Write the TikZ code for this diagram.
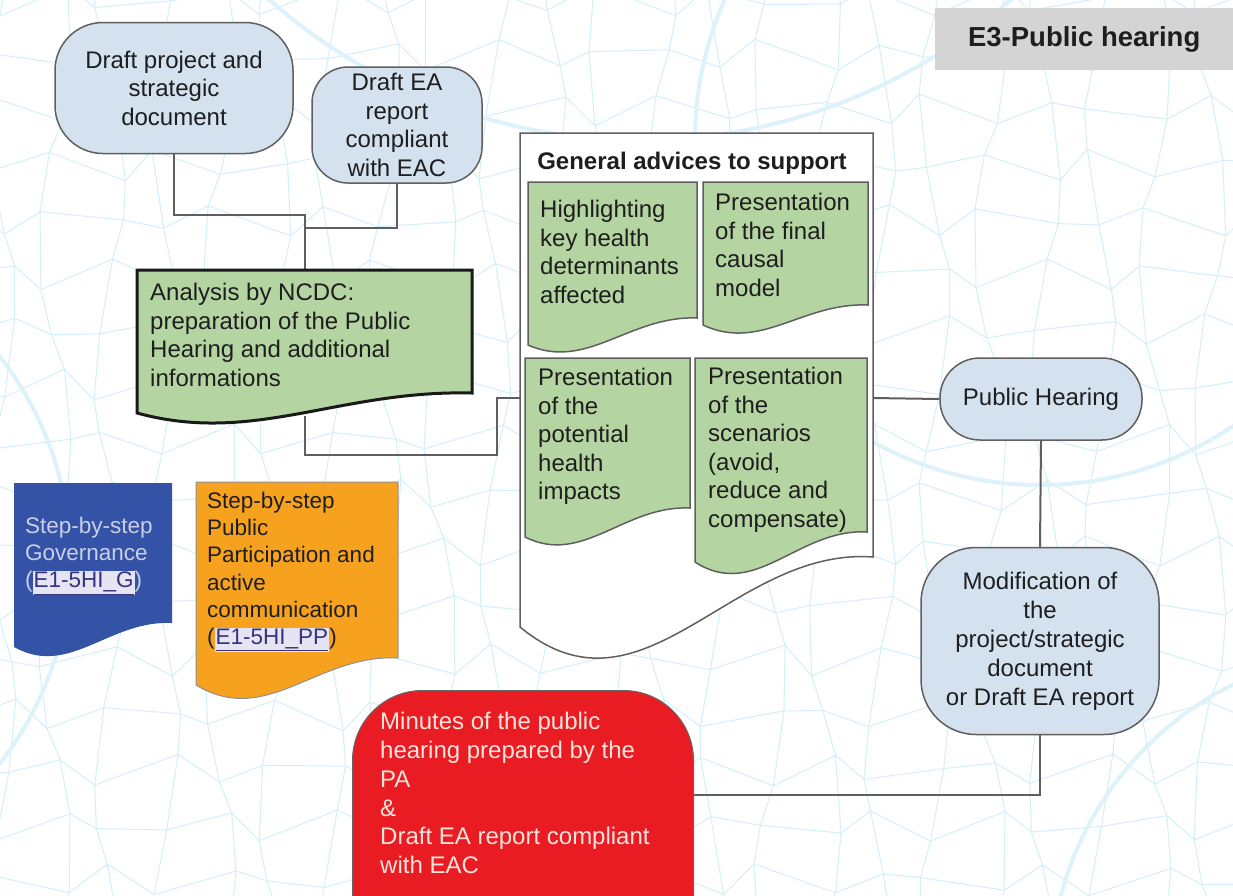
\documentclass[tikz,border=0pt]{standalone}
\usepackage{fontspec}
\setmainfont{Liberation Sans}
\usetikzlibrary{calc}

\definecolor{nodeblue}{HTML}{D4E2F0}
\definecolor{linegray}{HTML}{5F5F5F}
\definecolor{leafgreen}{HTML}{B4D5A2}
\definecolor{govblue}{HTML}{3553A6}
\definecolor{govtext}{HTML}{C9CFE8}
\definecolor{ppOrange}{HTML}{F7A21F}
\definecolor{minRed}{HTML}{E91C23}
\definecolor{minText}{HTML}{FCE3DC}
\definecolor{titlegray}{HTML}{D4D4D4}
\definecolor{veins}{HTML}{D4EFFA}
\definecolor{veinsarc}{HTML}{DDF2FB}
\definecolor{textdark}{HTML}{1E1E1E}
\definecolor{linkbg}{HTML}{E6E4F2}
\definecolor{linkfg}{HTML}{34347F}

\pgfdeclarelayer{veinlayer}
\pgfdeclarelayer{wires}
\pgfsetlayers{veinlayer,wires,main}

% document shape: x1, top, x2, right bottom y, left bottom y, wave depth
\newcommand\docshape[7][]{%
  \path[#1] (#2,#3) -- (#4,#3) -- (#4,#5)
    .. controls ({#4-0.4*(#4-#2)},{#5-0.1*#7}) and ({#2+0.35*(#4-#2)},{#6+#7}) .. (#2,#6) -- cycle;}

% hyperlink-like reference
\newcommand\linkref[1]{\begingroup\setlength\fboxsep{1pt}\colorbox{linkbg}{\textcolor{linkfg}{\underline{#1}}}\endgroup}

\tikzset{
  stadium/.style={draw=linegray, line width=1.5pt, fill=nodeblue, rounded corners=#1,
    align=center, text=textdark, inner sep=0pt, font=\fontsize{24}{28.5}\selectfont},
  txt/.style={anchor=north west, inner sep=0pt, align=left, text=textdark,
    font=\fontsize{24}{28.5}\selectfont},
  smalltxt/.style={anchor=north west, inner sep=0pt, align=left,
    font=\fontsize{22.5}{27.2}\selectfont},
  greendoc/.style={draw=linegray, line width=1.5pt, fill=leafgreen},
  conn/.style={draw=linegray, line width=2pt},
  mesh/.style={draw=veins, line width=1pt},
  bigarc/.style={draw=veinsarc, line width=4pt}
}

\begin{document}
\begin{tikzpicture}[x=1pt,y=-1pt]
\useasboundingbox (0,0) rectangle (1233,895);
\clip (0,0) rectangle (1233,895);

% faint leaf-vein texture on a white ground
\begin{pgfonlayer}{veinlayer}
\fill[white] (0,0) rectangle (1233,895);
\foreach \i in {-1,...,23} {
  \foreach \j in {-1,...,17} {
    \pgfmathsetmacro\ax{\i*55+16*sin(127*\i+311*\j)}
    \pgfmathsetmacro\ay{\j*55+16*cos(211*\i+97*\j)}
    \pgfmathsetmacro\bx{(\i+1)*55+16*sin(127*(\i+1)+311*\j)}
    \pgfmathsetmacro\by{\j*55+16*cos(211*(\i+1)+97*\j)}
    \pgfmathsetmacro\cx{\i*55+16*sin(127*\i+311*(\j+1))}
    \pgfmathsetmacro\cy{(\j+1)*55+16*cos(211*\i+97*(\j+1))}
    \draw[mesh] (\bx,\by) -- (\ax,\ay) -- (\cx,\cy);
  }
}
\draw[bigarc] (1040,140) circle[radius=345];
\draw[bigarc] (640,-420) circle[radius=560];
\draw[bigarc] (-260,560) circle[radius=330];
\draw[bigarc] (1380,980) circle[radius=330];
\end{pgfonlayer}

% title tab
\node[fill=titlegray, minimum width=298, minimum height=62, anchor=north west, inner sep=0pt,
      text=textdark, font=\bfseries\fontsize{27.5}{30}\selectfont] (title) at (935,8) {E3-Public hearing};

% inputs
\node[stadium=48, minimum width=238, minimum height=131] (draftproj) at (174,88)
  {Draft project and\\strategic\\document};
\node[stadium=36, minimum width=170, minimum height=116] (draftea) at (397,125)
  {Draft EA\\report\\compliant\\with EAC};

% analysis by NCDC
\docshape[draw=black!90, line width=3pt, fill=leafgreen]{137}{270}{472}{393}{413}{32}
\node[txt] (analysis) at (150,283)
  {Analysis by NCDC:\\preparation of the Public\\Hearing and additional\\informations};

% general advices container
\docshape[draw=linegray, line width=1.5pt, fill=white]{520}{133}{873}{557}{627}{102}
\node[text=textdark, inner sep=0pt, font=\bfseries\fontsize{24}{28}\selectfont] (advices) at (692,163)
  {General advices to support};

\docshape[greendoc]{528}{182}{697}{318}{345}{26}
\node[txt] (highlight) at (540,200) {Highlighting\\key health\\determinants\\affected};
\docshape[greendoc]{703}{182}{868}{305}{325}{27}
\node[txt] (causal) at (715,193) {Presentation\\of the final\\causal\\model};
\docshape[greendoc]{525}{358}{690}{508}{537}{29}
\node[txt] (impacts) at (538,368) {Presentation\\of the\\potential\\health\\impacts};
\docshape[greendoc]{695}{358}{867}{532}{562}{39}
\node[txt] (scenarios) at (708,367) {Presentation\\of the\\scenarios\\(avoid,\\reduce and\\compensate)};

% public hearing and modification
\node[stadium=40, minimum width=202, minimum height=82] (hearing) at (1041,399) {Public Hearing};
\node[stadium=55, minimum width=238, minimum height=187, font=\fontsize{24}{29}\selectfont] (modif) at (1040,641)
  {Modification of\\the\\project/strategic\\document\\or Draft EA report};

% step-by-step references
\docshape[fill=govblue]{14}{483}{172}{623}{647}{31}
\node[smalltxt, text=govtext] (gov) at (25,517)
  {Step-by-step\\Governance\\(\linkref{E1-5HI\_G})};
\docshape[draw=linegray!70, line width=1pt, fill=ppOrange]{196}{482}{398}{658}{685}{43}
\node[smalltxt, text=textdark] (partic) at (207,492)
  {Step-by-step\\Public\\Participation and\\active\\communication\\(\linkref{E1-5HI\_PP})};

% minutes
\node[draw=black!60, line width=1pt, fill=minRed, rounded corners=70, minimum width=341,
      minimum height=290, anchor=north west, inner sep=0pt] (minutes) at (352,690) {};
\node[txt, text=minText, font=\fontsize{24}{28.8}\selectfont] (minutestext) at (380,712)
  {Minutes of the public\\hearing prepared by the\\PA\\\&\\Draft EA report compliant\\with EAC};

% connectors
\coordinate (j0) at (305,215);
\coordinate (j1) at (305,228);
\coordinate (antop) at (305,272);
\coordinate (anbot) at (305,416);
\coordinate (j2) at (497,455);
\coordinate (contleft) at (520,398);
\coordinate (contright) at (873,398);
\coordinate (minright) at (693,795);
\begin{pgfonlayer}{wires}
\draw[conn] (draftproj.south) |- (j0) -- (antop);
\draw[conn] (draftea.south) |- (j1);
\draw[conn] (anbot) |- (j2) |- (contleft);
\draw[conn] (contright) -- (hearing.west);
\draw[conn] (hearing.south) -- (modif.north);
\draw[conn] (modif.south) |- (minright);
\end{pgfonlayer}
\end{tikzpicture}
\end{document}
